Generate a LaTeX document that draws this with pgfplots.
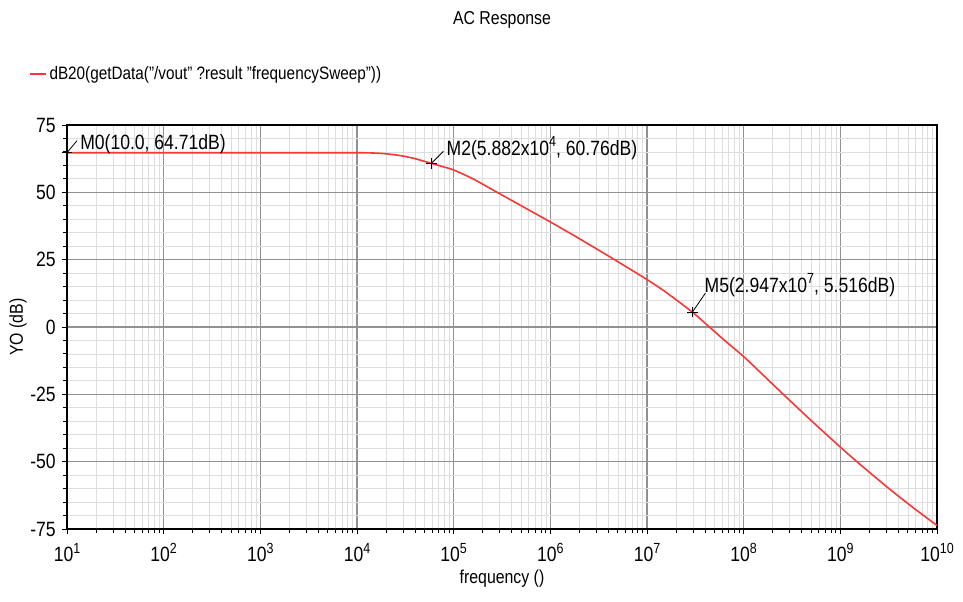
\documentclass[border=0pt]{standalone}
\usepackage{fontspec}
\setmainfont{Liberation Sans}[FakeStretch=0.85]
\usepackage{pgfplots}
\pgfplotsset{compat=1.18}
\usetikzlibrary{calc}
\definecolor{curve}{RGB}{250,55,55}
\definecolor{majgrid}{RGB}{145,145,145}
\definecolor{mingrid}{RGB}{222,222,222}
\newcommand{\sx}[1]{\raisebox{0.42em}{\fontsize{11}{11}\selectfont #1}}

\begin{document}
\begin{tikzpicture}
\begin{axis}[
    name=ax,
    scale only axis,
    width=652.5pt, height=303pt,
    xmode=log, log basis x=10,
    xmin=10, xmax=1e10, ymin=-75, ymax=75,
    xtick={1e1,1e2,1e3,1e4,1e5,1e6,1e7,1e8,1e9,1e10},
    xticklabels={10\sx{1},10\sx{2},10\sx{3},10\sx{4},10\sx{5},10\sx{6},10\sx{7},10\sx{8},10\sx{9},10\sx{10}},
    minor xtick={2e1,3e1,4e1,5e1,6e1,7e1,8e1,9e1,
                 2e2,3e2,4e2,5e2,6e2,7e2,8e2,9e2,
                 2e3,3e3,4e3,5e3,6e3,7e3,8e3,9e3,
                 2e4,3e4,4e4,5e4,6e4,7e4,8e4,9e4,
                 2e5,3e5,4e5,5e5,6e5,7e5,8e5,9e5,
                 2e6,3e6,4e6,5e6,6e6,7e6,8e6,9e6,
                 2e7,3e7,4e7,5e7,6e7,7e7,8e7,9e7,
                 2e8,3e8,4e8,5e8,6e8,7e8,8e8,9e8,
                 2e9,3e9,4e9,5e9,6e9,7e9,8e9,9e9},
    ytick={-75,-50,-25,0,25,50,75},
    yticklabels={-75,-50,-25,0,25,50,75},
    minor ytick={-70,-65,-60,-55,-45,-40,-35,-30,-20,-15,-10,-5,5,10,15,20,30,35,40,45,55,60,65,70},
    grid=both,
    major grid style={majgrid, line width=0.8pt},
    minor grid style={mingrid, line width=0.6pt},
    axis line style={black, line width=0.9pt},
    tick align=outside,
    xtick pos=left, ytick pos=left,
    major tick length=4pt, minor tick length=3pt,
    every tick/.style={black, line width=0.7pt},
    tick label style={font=\fontsize{15.5}{17}\selectfont},
    xticklabel style={yshift=-3pt},
    yticklabel style={xshift=-1pt},
    title={AC Response},
    title style={at={(axis description cs:0.5,1.240)}, anchor=center, font=\fontsize{14}{16}\selectfont},
    xlabel={frequency ()},
    ylabel={YO (dB)},
    every axis x label/.style={at={(axis description cs:0.5,-0.124)}, anchor=center, font=\fontsize{14}{16}\selectfont},
    every axis y label/.style={at={(axis description cs:-0.0563,0.5)}, rotate=90, anchor=center, font=\fontsize{14}{16}\selectfont},
    legend style={at={(axis description cs:-0.0437,1.126)}, anchor=west, draw=none, fill=none, inner sep=0pt,
        font=\fontsize{13.5}{15}\selectfont},
    legend image code/.code={\draw[#1] (0pt,0pt) -- (12pt,0pt);},
    clip=false,
]
\addplot[curve, line width=1.2pt, smooth, tension=0.4] coordinates {
    (1e1,64.71) (1e2,64.71) (1e3,64.71) (1e4,64.70) (1.5849e4,64.55)
    (1.9953e4,64.3) (2.5119e4,63.9) (3.1623e4,63.3) (3.9811e4,62.5)
    (5.882e4,60.76) (7.9433e4,59.4) (1e5,58.3) (1.5849e5,55.0)
    (2.6915e5,50.4) (5.0119e5,45.0) (1e6,39.0) (1.9953e6,32.8)
    (4.4668e6,25.3) (1e7,17.6) (1.5849e7,12.8) (2.947e7,5.516)
    (4.1687e7,0.8) (6.3096e7,-4.9) (1e8,-11.0) (1.5849e8,-17.8)
    (2.3988e8,-24.0) (5.0119e8,-34.8) (1e9,-44.6) (1.5849e9,-50.9)
    (3.1623e9,-59.9) (5.6234e9,-67.0) (1e10,-73.7)
};
\addlegendentry{dB20(getData("/vout" ?result "frequencySweep"))}
\addplot[only marks, mark=+, mark size=4pt, black, line width=0.8pt, forget plot] coordinates {
    (10,64.71) (5.882e4,60.76) (2.947e7,5.516)
};
% marker labels with leader lines
\draw[black, line width=0.6pt] (axis cs:10,64.71) -- ++(7.5pt,9pt);
\node[anchor=west, inner sep=0pt, font=\fontsize{15.5}{17}\selectfont]
    at ($(axis cs:10,64.71)+(9.75pt,6.75pt)$) {M0(10.0, 64.71dB)};
\draw[black, line width=0.6pt] (axis cs:5.882e4,60.76) -- ++(9pt,9pt);
\node[anchor=west, inner sep=0pt, font=\fontsize{15.5}{17}\selectfont]
    at ($(axis cs:5.882e4,60.76)+(11.25pt,11.25pt)$) {M2(5.882x10\sx{4}, 60.76dB)};
\draw[black, line width=0.6pt] (axis cs:2.947e7,5.516) -- ++(9.75pt,14.25pt);
\node[anchor=west, inner sep=0pt, font=\fontsize{15.5}{17}\selectfont]
    at ($(axis cs:2.947e7,5.516)+(9pt,20.25pt)$) {M5(2.947x10\sx{7}, 5.516dB)};
\end{axis}
\pgfresetboundingbox
\path ($(ax.south west)+(-50.25pt,-54pt)$) rectangle ($(ax.north east)+(19.5pt,93.75pt)$);
\end{tikzpicture}
\end{document}
